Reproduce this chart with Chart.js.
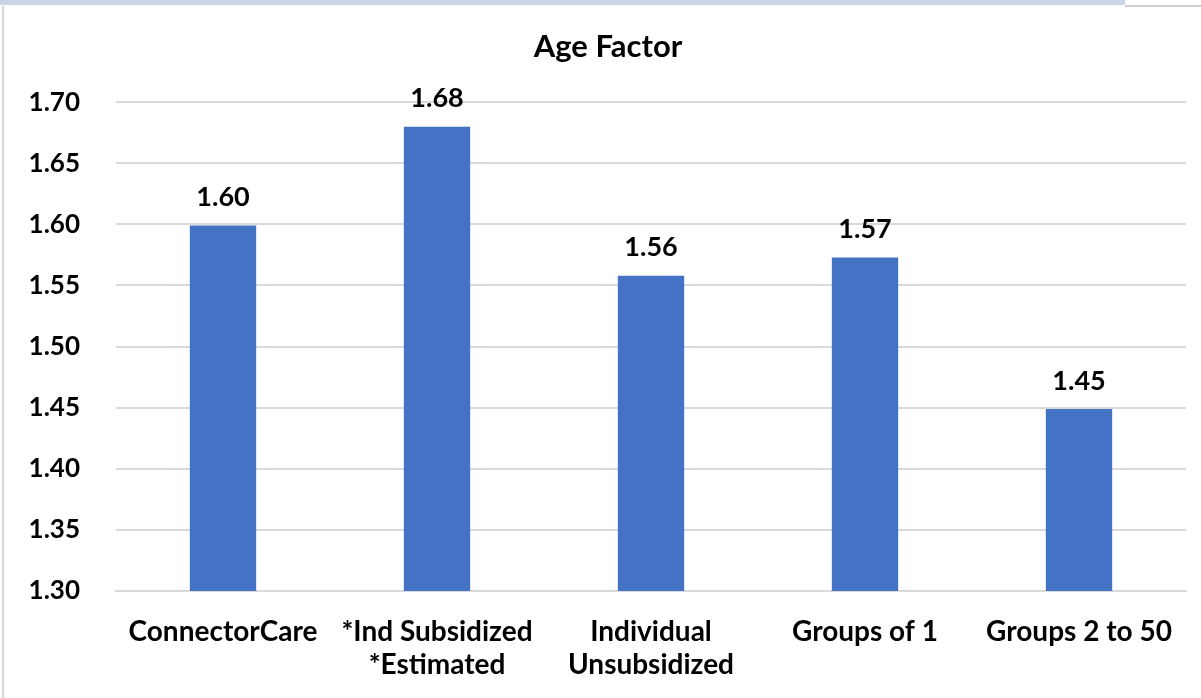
<!DOCTYPE html>
<html>
<head>
<meta charset="utf-8">
<script src="https://cdn.jsdelivr.net/npm/chart.js@4"></script>
<style>
  html, body { margin: 0; padding: 0; background: #fff; }
  #wrap { position: relative; width: 1201px; height: 698px; overflow: hidden; }
  #topband { position: absolute; left: 0; top: 0; width: 1125px; height: 5px; background: #c9d6ea; }
  #topline { position: absolute; left: 1125px; top: 5px; width: 76px; height: 2px; background: #cfcfcf; }
  #leftline { position: absolute; left: 2px; top: 6px; width: 2px; height: 692px; background: #d6d6d6; }
  canvas { position: absolute; left: 0; top: 0; }
</style>
</head>
<body>
<div id="wrap">
  <canvas id="c" width="1201" height="698"></canvas>
  <div id="topband"></div>
  <div id="topline"></div>
  <div id="leftline"></div>
</div>
<script>
const categories = ["ConnectorCare", ["*Ind Subsidized", "*Estimated"], ["Individual", "Unsubsidized"], "Groups of 1", "Groups 2 to 50"];
const ageFactor = [1.599, 1.680, 1.558, 1.573, 1.449];
const valueLabels = ["1.60", "1.68", "1.56", "1.57", "1.45"];
const yMin = 1.30, yMax = 1.70, yStep = 0.05;

const FONT = "Lato, 'Open Sans', sans-serif";

const valueLabelPlugin = {
  id: 'valueLabels',
  afterDatasetsDraw(chart) {
    const ctx = chart.ctx;
    const meta = chart.getDatasetMeta(0);
    ctx.save();
    ctx.font = "bold 27px " + FONT;
    ctx.fillStyle = "#000";
    ctx.textAlign = "center";
    ctx.textBaseline = "middle";
    meta.data.forEach((bar, i) => {
      ctx.fillText(valueLabels[i], bar.x, bar.y - 28);
    });
    ctx.restore();
  }
};

new Chart(document.getElementById('c'), {
  type: 'bar',
  data: {
    labels: categories,
    datasets: [{
      label: 'Age Factor',
      data: ageFactor,
      backgroundColor: '#4472C4',
      borderWidth: 0,
      barPercentage: 0.31,
      categoryPercentage: 1.0
    }]
  },
  options: {
    responsive: false,
    animation: false,
    layout: { padding: { left: 30, right: 15, top: 0, bottom: 0 } },
    plugins: {
      legend: { display: false },
      tooltip: { enabled: false },
      title: {
        display: true,
        text: 'Age Factor',
        color: '#000',
        font: { family: FONT, size: 31, weight: 'bold', lineHeight: 1.2 },
        padding: { top: 28, bottom: 37 }
      }
    },
    scales: {
      x: {
        grid: { display: false, drawTicks: false },
        border: { display: true, color: '#d9d9d9', width: 2 },
        ticks: {
          color: '#000',
          font: { family: FONT, size: 28, weight: 'bold', lineHeight: 1.2 },
          padding: 24,
          maxRotation: 0,
          autoSkip: false
        },
        afterFit(scale) { scale.height = 107; }
      },
      y: {
        min: yMin,
        max: yMax,
        grid: { color: '#d9d9d9', lineWidth: 2, drawTicks: false },
        border: { display: false },
        ticks: {
          stepSize: yStep,
          color: '#000',
          padding: 36,
          font: { family: FONT, size: 26, weight: 'bold' },
          callback: (v) => Number(v).toFixed(2)
        },
        afterFit(scale) { scale.width = 86; }
      }
    }
  },
  plugins: [valueLabelPlugin]
});
</script>
</body>
</html>
